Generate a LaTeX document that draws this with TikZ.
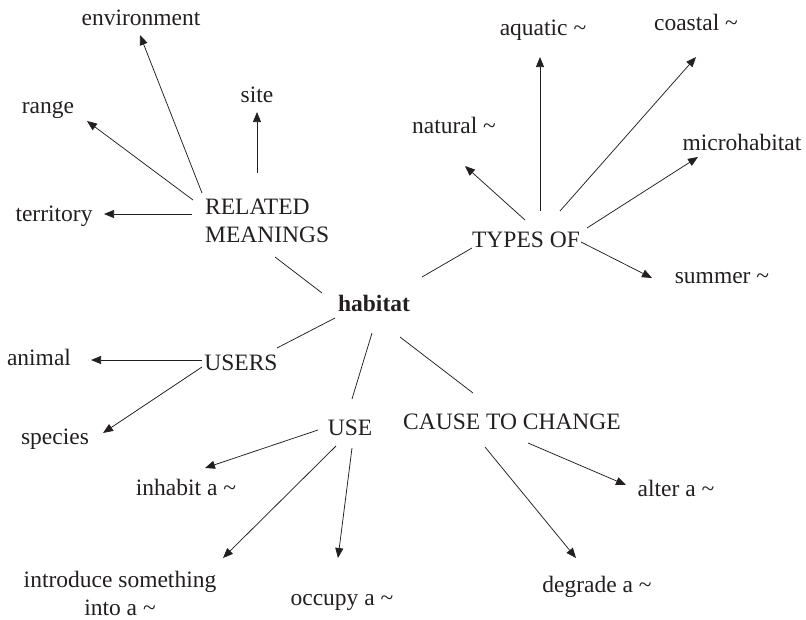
\documentclass[tikz,border=0pt]{standalone}
\usepackage{fontspec}
\setmainfont{Liberation Serif}
\usetikzlibrary{arrows.meta,calc}
\definecolor{ink}{HTML}{231F20}
\begin{document}
\begin{tikzpicture}[x=1pt,y=-1pt,
  every node/.style={inner sep=0pt, text=ink, font=\fontsize{23.5}{27.5}\selectfont, anchor=base},
  link/.style={draw=ink, line width=0.75pt},
  arr/.style={link, -{Triangle[length=10pt,width=8pt]}}]
\useasboundingbox (0,0) rectangle (806,619);

% centre word
\node (hab) at (374,311) {\textbf{habitat}};

% category labels (multi-line nodes sit on their last baseline)
\node[align=left, anchor=base west] (rel) at (205,242) {RELATED\\MEANINGS};
\node (types) at (526,247) {TYPES OF};
\node (users) at (241,370) {USERS};
\node (use)   at (350,435) {USE};
\node (cause) at (512,429) {CAUSE TO CHANGE};

% related meanings
\node (env)   at (141,25)  {environment};
\node (range) at (48,113)  {range};
\node (site)  at (257,102) {site};
\node (terr)  at (54,221)  {territory};

% types of
\node (nat)    at (454,133) {natural \textasciitilde};
\node (aqua)   at (543,35)  {aquatic \textasciitilde};
\node (coast)  at (696,30)  {coastal \textasciitilde};
\node (micro)  at (742,150) {microhabitat};
\node (summer) at (722,283) {summer \textasciitilde};

% users
\node (animal)  at (39,365) {animal};
\node (species) at (55,444) {species};

% use
\node (inhab) at (186,495) {inhabit a \textasciitilde};
\node[align=center] (intro) at (120,615) {introduce something\\into a \textasciitilde};
\node (occ)   at (342,605) {occupy a \textasciitilde};

% cause to change
\node (alter) at (676,496) {alter a \textasciitilde};
\node (degr)  at (597,592) {degrade a \textasciitilde};

% spokes from the centre word
\draw[link] ($(rel.base west)+(70,15)$) -- ($(hab.base)+(-52,-18)$);
\draw[link] ($(hab.base)+(48,-34)$) -- ($(types.base)+(-54,1)$);
\draw[link] ($(hab.base)+(-39,7)$) -- ($(users.base)+(36,-22)$);
\draw[link] ($(hab.base)+(-2,22)$) -- ($(use.base)+(2,-36)$);
\draw[link] ($(hab.base)+(26,26)$) -- ($(cause.base)+(-39,-36)$);

% related meanings arrows
\draw[arr] ($(rel.base west)+(-3,-49)$) -- ($(env.base)+(-1,10)$);
\draw[arr] ($(rel.base west)+(-12,-42)$) -- ($(range.base)+(39,8)$);
\draw[arr] ($(rel.base west)+(52,-69)$) -- ($(site.base)+(0,10)$);
\draw[arr] ($(rel.base west)+(-13,-28)$) -- ($(terr.base)+(50,-7)$);

% types of arrows
\draw[arr] ($(types.base)+(-1,-27)$) -- ($(nat.base)+(11,33)$);
\draw[arr] ($(types.base)+(14,-36)$) -- ($(aqua.base)+(-3,22)$);
\draw[arr] ($(types.base)+(34,-36)$) -- ($(coast.base)+(0,27)$);
\draw[arr] ($(types.base)+(61,-19)$) -- ($(micro.base)+(-44,7)$);
\draw[arr] ($(types.base)+(55,-5)$) -- ($(summer.base)+(-70,-5)$);

% users arrows
\draw[arr] ($(users.base)+(-39,-10)$) -- ($(animal.base)+(52,-5)$);
\draw[arr] ($(users.base)+(-39,-3)$) -- ($(species.base)+(48,-11)$);

% use arrows
\draw[arr] ($(use.base)+(-32,-5)$) -- ($(inhab.base)+(19,-27)$);
\draw[arr] ($(use.base)+(-14,11)$) -- ($(intro.base)+(103,-57)$);
\draw[arr] ($(use.base)+(2,13)$) -- ($(occ.base)+(-4,-47)$);

% cause to change arrows
\draw[arr] ($(cause.base)+(16,14)$) -- ($(alter.base)+(-50,-11)$);
\draw[arr] ($(cause.base)+(-27,18)$) -- ($(degr.base)+(-21,-34)$);
\end{tikzpicture}
\end{document}
